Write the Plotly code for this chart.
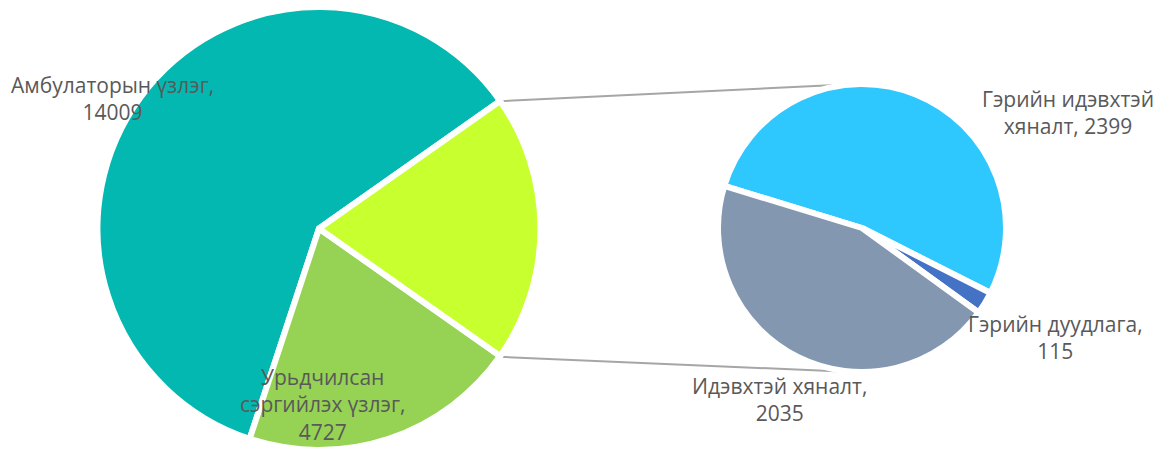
import math
import plotly.graph_objects as go

# ---- data ----
main_labels = ["Амбулаторын үзлэг", "Урьдчилсан сэргийлэх үзлэг", "Бусад"]
main_values = [14009, 4727]
sub_labels = ["Гэрийн идэвхтэй хяналт", "Гэрийн дуудлага", "Идэвхтэй хяналт"]
sub_values = [2399, 115, 2035]

main_colors = ["#02B8B1", "#96D254", "#C8FF2E"]
sub_colors = ["#2EC8FF", "#4472C4", "#8497B0"]

other = sum(sub_values)
main_all = main_values + [other]
total = sum(main_all)

W, H = 1164, 450
# geometry (pixels)
mcx, mcy, mr = 319, 229, 222
scx, scy, sr = 862, 228, 144

half_ang = other / total * 180.0  # half-angle of the "other" slice centred at 3 o'clock
first_ang = main_all[0] / total * 360.0


def clamp(v):
    return min(1.0, max(0.0, v))


fig = go.Figure()
fig.add_trace(go.Pie(
    labels=main_labels, values=main_all, sort=False,
    direction="counterclockwise", rotation=(90 - half_ang) - first_ang,
    marker=dict(colors=main_colors, line=dict(color="white", width=6)),
    textinfo="none", hoverinfo="label+value", showlegend=False,
    domain=dict(x=[clamp((mcx - mr) / W), clamp((mcx + mr) / W)],
                y=[clamp(1 - (mcy + mr) / H), clamp(1 - (mcy - mr) / H)]),
))

sub_start = 163  # math angle where the first secondary slice begins
fig.add_trace(go.Pie(
    labels=sub_labels, values=sub_values, sort=False,
    direction="clockwise", rotation=90 - sub_start,
    marker=dict(colors=sub_colors, line=dict(color="white", width=6)),
    textinfo="none", hoverinfo="label+value", showlegend=False,
    domain=dict(x=[clamp((scx - sr) / W), clamp((scx + sr) / W)],
                y=[clamp(1 - (scy + sr) / H), clamp(1 - (scy - sr) / H)]),
))

# connector lines from the "other" slice to top and bottom of the secondary pie
a = math.radians(half_ang)
p_top = (mcx + mr * math.cos(a), mcy - mr * math.sin(a))
p_bot = (mcx + mr * math.cos(a), mcy + mr * math.sin(a))
s_top = (scx - 5, scy - sr)
s_bot = (scx - 9, scy + sr)
for (x0, y0), (x1, y1) in [(p_top, s_top), (p_bot, s_bot)]:
    fig.add_shape(type="line", xref="paper", yref="paper",
                  x0=x0 / W, y0=1 - y0 / H, x1=x1 / W, y1=1 - y1 / H,
                  line=dict(color="#A6A6A6", width=2), layer="below")

font = dict(family="Open Sans", size=21, color="#595959")
labels = [
    (f"{main_labels[0]},<br>{main_values[0]}", 112, 99),
    (f"Урьдчилсан<br>сэргийлэх үзлэг,<br>{main_values[1]}", 322, 404),
    (f"Гэрийн идэвхтэй<br>хяналт, {sub_values[0]}", 1068, 113),
    (f"{sub_labels[1]},<br>{sub_values[1]}", 1055, 337),
    (f"{sub_labels[2]},<br>{sub_values[2]}", 780, 399),
]
for txt, x, y in labels:
    fig.add_annotation(text=txt, x=x / W, y=1 - y / H, xref="paper", yref="paper",
                       showarrow=False, font=font, align="center",
                       xanchor="center", yanchor="middle")

fig.update_layout(width=W, height=H, margin=dict(l=0, r=0, t=0, b=0),
                  paper_bgcolor="white", plot_bgcolor="white")
fig.write_html("out.html", config={"displayModeBar": False},
               post_script="document.body.style.margin='0';document.body.style.overflow='hidden';")
